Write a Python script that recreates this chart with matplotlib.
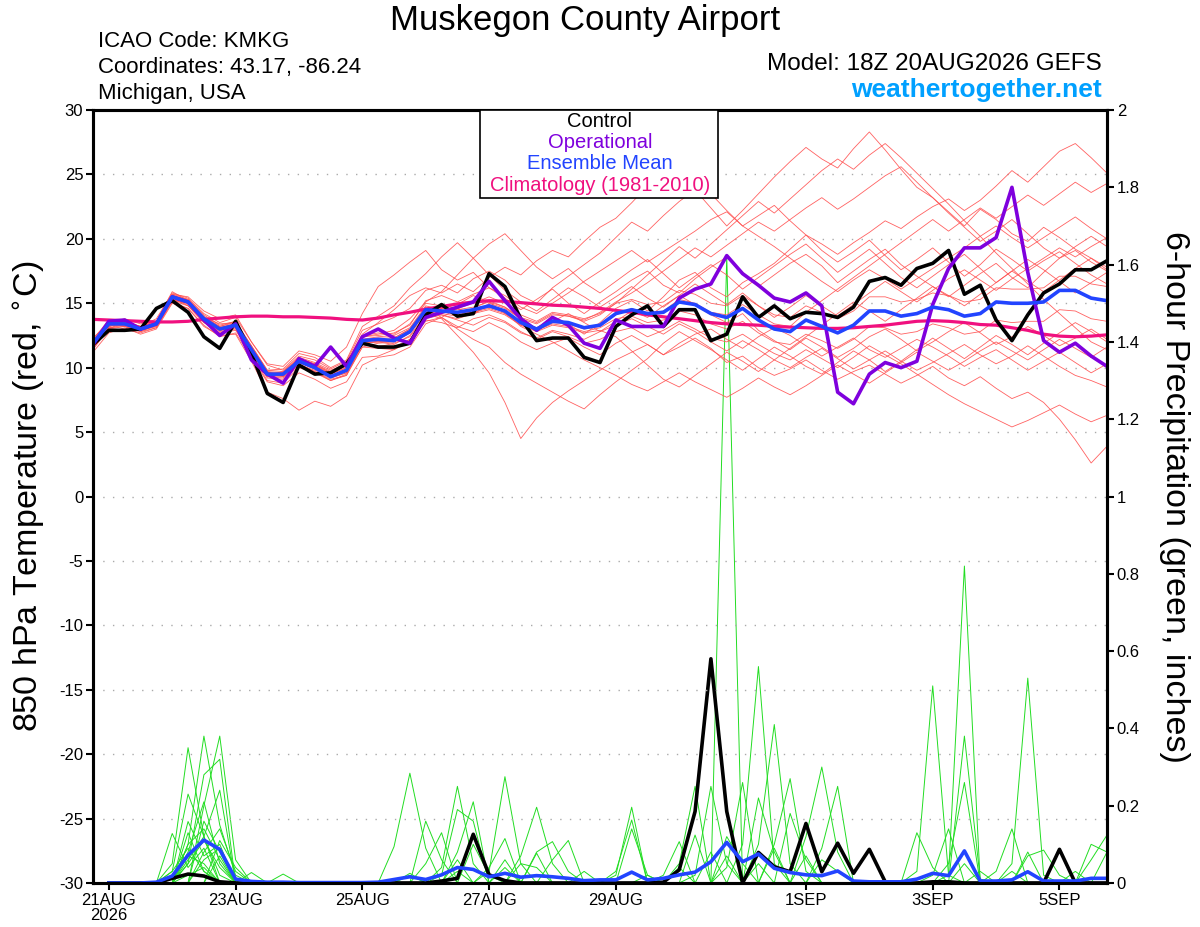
import numpy as np
import pandas as pd
import matplotlib
matplotlib.use('Agg')
import matplotlib.pyplot as plt
from matplotlib.patches import Rectangle

plt.rcParams['font.family'] = ['Liberation Sans', 'DejaVu Sans']

# Data
#################
times = pd.date_range('2026-08-20 18:00', periods=65, freq='6h')
tick_dates = pd.to_datetime(['2026-08-21', '2026-08-23', '2026-08-25', '2026-08-27',
                             '2026-08-29', '2026-09-01', '2026-09-03', '2026-09-05'])
tick_labels = ['21AUG\n2026', '23AUG', '25AUG', '27AUG', '29AUG', '1SEP', '3SEP', '5SEP']

# 850 hPa temperature (C)
control_t = [11.8, 12.9, 12.9, 13.0, 14.6, 15.2, 14.3, 12.4, 11.5, 13.6,
             11.1, 8.0, 7.3, 10.2, 9.5, 9.6, 10.3, 11.9, 11.6, 11.6, 11.9,
             14.1, 14.9, 14.0, 14.2, 17.3, 16.3, 13.8, 12.1, 12.3, 12.3, 10.8, 10.4,
             13.2, 14.1, 14.8, 13.2, 14.5, 14.5, 12.1, 12.6, 15.5, 13.9, 14.8, 13.8,
             14.3, 14.2, 13.9, 14.7, 16.7, 17.0, 16.4, 17.7, 18.1, 19.1,
             15.7, 16.4, 13.7, 12.1, 14.1, 15.8, 16.5, 17.6, 17.6, 18.3]
oper_t = [11.8, 13.6, 13.7, 13.0, 13.4, 15.5, 15.1, 13.7, 12.5, 13.4,
          10.6, 9.5, 8.8, 10.7, 10.1, 11.6, 10.1, 12.4, 13.0, 12.3, 11.9,
          13.9, 14.3, 14.7, 15.1, 16.7, 15.2, 13.8, 12.9, 13.9, 13.3, 11.9, 11.5,
          13.7, 13.2, 13.2, 13.2, 15.4, 16.1, 16.5, 18.7, 17.3, 16.4, 15.4, 15.1,
          15.8, 14.8, 8.1, 7.2, 9.5, 10.4, 10.0, 10.5, 14.9, 17.7,
          19.3, 19.3, 20.1, 24.0, 17.4, 12.1, 11.2, 11.9, 10.9, 10.1]
mean_t = [11.9, 13.4, 13.4, 13.0, 13.4, 15.5, 15.1, 13.8, 13.0, 13.3,
          11.4, 9.5, 9.5, 10.5, 10.0, 9.3, 9.8, 12.1, 12.2, 12.1, 12.8,
          14.5, 14.4, 14.3, 14.5, 14.8, 14.4, 13.5, 13.0, 13.6, 13.5, 13.1, 13.3,
          14.2, 14.5, 14.2, 14.3, 15.1, 14.9, 14.2, 13.9, 14.6, 13.7, 13.0, 12.8,
          13.7, 13.2, 12.7, 13.3, 14.4, 14.4, 14.0, 14.2, 14.7, 14.5,
          14.0, 14.2, 15.1, 15.0, 15.0, 15.1, 16.0, 16.0, 15.4, 15.2]
clim_t = [13.75, 13.7, 13.65, 13.6, 13.55, 13.55, 13.6, 13.75, 13.85, 13.95,
          14.0, 14.0, 13.95, 13.95, 13.9, 13.85, 13.75, 13.7, 13.85, 14.1, 14.3,
          14.55, 14.75, 14.95, 15.1, 15.2, 15.15, 15.05, 14.95, 14.85, 14.8, 14.7, 14.6,
          14.45, 14.3, 14.1, 13.95, 13.8, 13.65, 13.5, 13.4, 13.35, 13.3, 13.2, 13.15,
          13.1, 13.05, 13.05, 13.1, 13.2, 13.3, 13.45, 13.6, 13.65, 13.6,
          13.5, 13.35, 13.3, 13.1, 12.9, 12.6, 12.45, 12.4, 12.45, 12.55]

ens_t = [
    [11.5, 13.0, 13.6, 13.2, 13.8, 15.8, 15.4, 14.2, 13.5, 13.9,
     12.0, 10.2, 9.8, 10.9, 10.6, 9.9, 10.5, 12.9, 13.4, 13.9, 14.6,
     16.0, 16.4, 15.8, 16.9, 17.5, 16.8, 15.6, 15.0, 16.2, 17.1, 18.0, 18.9,
     20.1, 21.3, 20.6, 21.8, 22.9, 23.8, 22.4, 21.0, 22.2, 23.5, 24.8, 26.0,
     27.1, 26.2, 25.5, 27.0, 28.3, 26.9, 25.4, 24.0, 23.2, 22.1,
     21.0, 22.3, 21.5, 20.4, 19.8, 20.9, 20.1, 19.2, 18.5, 17.6],
    [11.2, 12.7, 13.1, 12.6, 13.0, 15.0, 14.6, 13.3, 12.4, 12.7,
     10.8, 8.9, 8.6, 9.6, 9.1, 8.4, 8.9, 10.8, 10.9, 11.4, 12.2,
     13.6, 13.9, 13.2, 12.8, 13.5, 12.9, 12.0, 11.4, 11.9, 12.3, 11.6, 11.0,
     11.9, 12.5, 11.8, 11.0, 11.6, 12.3, 11.5, 10.4, 10.9, 10.0, 9.4, 9.9,
     10.6, 9.8, 9.1, 9.7, 10.2, 9.5, 8.8, 9.4, 10.1, 9.2,
     8.6, 9.3, 8.4, 7.6, 8.1, 7.3, 6.0, 4.4, 2.6, 3.9],
    [12.1, 13.6, 13.3, 12.9, 13.2, 15.3, 15.0, 13.6, 12.8, 13.0,
     11.0, 9.0, 8.8, 10.0, 9.6, 9.0, 9.5, 11.6, 11.9, 12.0, 12.7,
     14.2, 13.8, 12.5, 11.2, 9.6, 7.3, 4.5, 6.1, 7.3, 8.2, 9.0, 9.8,
     10.6, 11.2, 11.8, 11.0, 11.9, 12.6, 13.0, 12.2, 11.5, 12.4, 13.1, 12.5,
     11.7, 10.9, 11.6, 12.3, 11.4, 10.8, 11.5, 12.2, 11.6, 10.9,
     10.1, 10.8, 11.4, 10.6, 9.8, 10.5, 11.2, 10.4, 9.6, 10.3],
    [12.3, 13.5, 13.8, 13.4, 13.6, 15.7, 15.5, 14.4, 13.8, 14.1,
     12.0, 10.3, 10.1, 11.3, 11.0, 10.5, 11.6, 14.2, 16.3, 17.2, 18.2,
     19.1, 17.6, 16.8, 17.4, 16.2, 15.4, 14.5, 15.3, 16.1, 15.0, 14.2, 15.1,
     15.9, 16.8, 17.5, 16.4, 15.8, 16.9, 17.8, 18.6, 17.4, 16.3, 17.2, 18.1,
     18.8, 17.9, 16.6, 17.5, 18.4, 19.2, 18.0, 17.1, 16.3, 15.5,
     16.4, 17.3, 18.1, 17.0, 16.2, 17.4, 18.5, 19.1, 18.2, 17.5],
    [11.6, 12.9, 13.0, 12.7, 13.1, 15.1, 14.6, 13.2, 12.5, 12.6,
     10.5, 8.1, 7.6, 6.7, 7.4, 7.0, 7.8, 10.2, 10.8, 11.0, 11.6,
     13.4, 13.9, 14.6, 14.1, 15.0, 14.6, 13.8, 12.9, 13.6, 14.2, 13.5, 12.8,
     13.6, 14.4, 13.9, 14.8, 15.6, 14.9, 14.1, 13.5, 14.2, 12.9, 12.1, 11.4,
     12.3, 11.6, 10.8, 11.5, 12.4, 13.0, 12.2, 11.3, 12.0, 12.8,
     13.5, 12.7, 11.8, 12.4, 13.2, 12.5, 11.7, 12.3, 13.0, 12.2],
    [11.9, 13.2, 13.6, 13.1, 13.5, 15.6, 15.3, 14.0, 13.2, 13.6,
     11.6, 9.7, 9.3, 10.4, 10.2, 9.6, 10.4, 12.6, 13.5, 14.5, 15.6,
     16.2, 15.8, 16.5, 15.9, 17.0, 17.8, 17.2, 18.3, 19.1, 18.6, 19.8, 20.9,
     21.6, 22.8, 24.1, 25.2, 26.3, 24.9, 23.5, 22.2, 21.0, 21.8, 22.6, 21.4,
     20.3, 19.1, 18.2, 19.0, 19.9, 18.7, 17.6, 18.4, 19.3, 18.2,
     17.1, 18.0, 19.2, 18.4, 17.5, 18.3, 19.0, 18.1, 17.2, 16.5],
    [11.4, 13.1, 13.2, 12.8, 13.3, 15.4, 14.8, 13.5, 12.9, 13.1,
     11.2, 9.3, 9.2, 10.3, 9.7, 9.1, 9.4, 11.8, 11.6, 11.9, 12.4,
     14.0, 14.6, 14.9, 15.6, 15.1, 14.2, 13.6, 13.1, 13.9, 13.4, 12.6, 13.5,
     14.6, 15.2, 14.4, 15.5, 16.8, 17.4, 16.2, 15.5, 16.6, 17.3, 18.1, 19.2,
     20.3, 19.6, 18.8, 19.7, 20.5, 21.4, 20.8, 21.7, 22.5, 23.1,
     22.2, 23.0, 24.1, 25.3, 24.4, 25.6, 26.8, 27.4, 26.3, 25.1],
    [12.0, 13.3, 13.5, 13.0, 13.3, 15.2, 15.0, 13.9, 13.1, 13.4,
     11.3, 9.4, 9.6, 10.6, 10.1, 9.2, 9.6, 11.9, 12.0, 12.3, 13.0,
     14.6, 13.9, 13.0, 12.2, 11.6, 10.4, 9.5, 8.8, 8.1, 7.4, 6.8, 7.9,
     8.9, 9.8, 10.7, 11.9, 12.8, 12.1, 11.4, 10.6, 9.8, 10.7, 11.6, 10.9,
     10.1, 9.5, 10.4, 11.3, 10.6, 9.7, 10.5, 11.4, 12.3, 11.5,
     10.7, 11.6, 12.5, 11.8, 11.0, 11.9, 12.7, 13.5, 12.8, 12.0],
    [12.2, 13.7, 13.4, 13.2, 13.6, 15.9, 15.2, 13.9, 13.4, 13.5,
     11.7, 9.8, 9.9, 11.1, 10.8, 10.0, 10.6, 13.2, 14.0, 14.8, 16.2,
     17.3, 18.6, 19.7, 18.5, 17.2, 16.0, 15.1, 14.4, 15.3, 16.2, 15.5, 14.7,
     15.5, 16.3, 15.4, 14.7, 15.6, 16.5, 15.7, 14.9, 15.8, 14.8, 13.9, 14.7,
     15.6, 14.8, 14.0, 14.9, 15.8, 16.7, 15.9, 15.1, 16.0, 16.9,
     17.6, 16.8, 16.0, 16.9, 17.7, 18.5, 19.3, 18.6, 19.4, 20.1],
    [11.7, 13.4, 13.2, 12.9, 13.2, 15.4, 15.0, 13.7, 12.9, 13.2,
     11.3, 9.4, 9.3, 10.2, 9.8, 9.2, 9.6, 11.8, 11.7, 11.6, 12.2,
     13.8, 14.1, 13.7, 13.3, 13.9, 13.5, 12.7, 12.3, 12.9, 12.6, 12.2, 12.8,
     13.3, 13.8, 13.2, 12.6, 13.4, 12.8, 12.0, 11.3, 12.1, 11.4, 10.6, 10.0,
     10.8, 11.5, 10.7, 9.9, 10.6, 11.3, 10.5, 9.8, 10.4, 11.1,
     11.8, 11.0, 10.3, 10.9, 11.7, 10.9, 10.1, 9.4, 9.0, 8.5],
    [11.8, 13.2, 13.5, 13.1, 13.4, 15.5, 15.2, 13.9, 13.0, 13.3,
     11.5, 9.6, 9.5, 10.5, 10.1, 9.5, 10.0, 12.2, 12.4, 12.5, 13.1,
     14.8, 14.5, 14.0, 14.6, 15.2, 14.7, 13.9, 13.5, 14.2, 14.0, 13.7, 14.3,
     15.1, 15.8, 16.6, 17.5, 18.4, 19.3, 18.6, 19.5, 20.4, 21.3, 20.6, 21.5,
     22.4, 23.2, 22.3, 23.1, 24.0, 24.9, 25.6, 24.4, 23.2, 22.0,
     20.9, 19.8, 20.6, 21.5, 20.4, 19.3, 18.5, 19.4, 20.2, 19.4],
    [12.0, 13.5, 13.4, 13.0, 13.5, 15.6, 15.1, 13.8, 13.1, 13.4,
     11.5, 9.6, 9.6, 10.6, 10.2, 9.5, 10.0, 12.2, 12.0, 11.8, 12.5,
     14.1, 14.3, 14.6, 14.2, 14.9, 14.3, 13.2, 12.6, 12.0, 11.3, 10.6, 10.0,
     9.4, 8.7, 8.2, 8.9, 9.6, 8.9, 8.3, 7.7, 8.4, 9.2, 8.5, 7.9,
     8.6, 9.4, 10.2, 9.5, 8.8, 9.6, 10.4, 11.2, 10.5, 9.8,
     10.5, 11.3, 12.0, 11.3, 10.6, 11.4, 12.2, 11.5, 10.8, 11.6],
    [11.6, 13.1, 13.3, 12.9, 13.3, 15.4, 15.0, 13.7, 12.9, 13.2,
     11.2, 9.4, 9.7, 10.8, 10.4, 9.8, 10.3, 12.4, 12.6, 12.9, 13.8,
     15.1, 15.9, 17.2, 18.5, 19.6, 20.4, 19.1, 17.8, 16.9, 17.7, 16.6, 15.8,
     16.7, 17.6, 18.4, 17.3, 16.2, 17.1, 18.0, 17.2, 16.1, 17.0, 17.9, 18.8,
     19.6, 18.5, 17.4, 18.3, 19.2, 18.1, 17.0, 16.2, 17.1, 18.0,
     18.8, 17.7, 16.6, 17.5, 18.4, 17.6, 16.7, 15.8, 16.6, 17.4],
    [11.9, 13.6, 13.5, 13.2, 13.5, 15.7, 15.3, 14.1, 13.3, 13.6,
     11.7, 9.8, 9.7, 10.7, 10.3, 9.6, 10.1, 12.5, 12.7, 12.6, 13.4,
     15.0, 14.8, 14.6, 15.0, 15.5, 15.0, 14.1, 13.6, 14.3, 14.1, 13.8, 14.2,
     15.0, 15.3, 14.9, 15.1, 16.0, 15.7, 15.0, 14.8, 15.6, 14.8, 14.1, 13.9,
     14.8, 14.3, 13.8, 14.4, 15.5, 15.5, 15.1, 15.3, 15.8, 15.6,
     15.1, 15.3, 16.2, 16.1, 16.1, 16.2, 17.1, 17.1, 16.5, 16.3],
    [11.5, 13.0, 13.2, 12.8, 13.1, 15.2, 14.8, 13.5, 12.7, 12.9,
     11.1, 9.2, 9.1, 10.1, 9.7, 9.0, 9.4, 11.6, 11.5, 11.4, 12.0,
     13.7, 13.5, 13.1, 13.8, 14.1, 13.6, 12.8, 12.2, 12.8, 12.4, 11.9, 12.2,
     12.8, 13.1, 12.4, 12.9, 13.6, 13.0, 12.3, 12.0, 12.6, 11.8, 11.1, 10.6,
     11.4, 10.7, 10.0, 10.8, 11.7, 11.0, 10.3, 9.5, 8.7, 7.9,
     7.2, 6.6, 6.0, 5.4, 5.9, 6.5, 7.1, 6.4, 5.8, 6.3],
    [12.1, 13.4, 13.6, 13.2, 13.6, 15.6, 15.2, 13.9, 13.2, 13.5,
     11.6, 9.7, 9.6, 10.7, 10.3, 9.7, 10.2, 12.4, 12.5, 12.7, 13.3,
     15.2, 15.6, 15.1, 15.7, 16.2, 15.6, 14.7, 14.2, 15.0, 15.8, 16.7, 17.5,
     18.3, 19.1, 18.2, 19.0, 19.8, 20.6, 21.5, 22.1, 21.0, 20.2, 19.4, 18.5,
     17.6, 16.7, 15.9, 16.8, 17.6, 16.9, 16.1, 16.9, 17.7, 18.5,
     19.3, 20.2, 21.0, 20.1, 19.3, 20.1, 20.9, 21.7, 20.8, 20.0],
    [11.8, 13.3, 13.3, 12.9, 13.3, 15.3, 14.9, 13.6, 12.9, 13.1,
     11.2, 9.3, 9.4, 10.4, 9.9, 9.3, 9.8, 11.9, 12.0, 12.1, 12.7,
     14.3, 14.1, 13.8, 14.2, 14.5, 14.1, 13.3, 12.9, 13.4, 13.2, 12.8, 13.1,
     13.8, 14.0, 13.5, 13.7, 14.4, 14.1, 13.4, 13.0, 13.6, 12.7, 12.0, 11.8,
     12.6, 12.1, 11.5, 12.2, 13.2, 13.1, 12.6, 12.8, 13.4, 13.1,
     12.6, 12.8, 13.7, 13.5, 13.6, 13.6, 14.5, 14.4, 13.8, 13.6],
    [11.7, 13.2, 13.4, 13.0, 13.4, 15.5, 15.0, 13.8, 13.0, 13.3,
     11.4, 9.5, 9.4, 10.4, 10.0, 9.4, 9.8, 12.0, 12.2, 12.1, 12.8,
     14.4, 14.3, 14.2, 14.4, 14.7, 14.3, 13.4, 12.9, 13.5, 13.4, 13.0, 13.2,
     14.1, 14.6, 14.2, 14.4, 15.3, 15.0, 14.3, 14.1, 14.9, 14.1, 13.4, 13.2,
     14.3, 15.2, 16.1, 17.0, 17.9, 18.8, 19.7, 20.6, 21.5, 20.6,
     21.5, 22.4, 21.6, 22.5, 23.4, 22.6, 23.5, 24.4, 23.6, 24.3],
    [12.0, 13.4, 13.3, 13.0, 13.4, 15.4, 15.0, 13.7, 13.0, 13.2,
     11.3, 9.4, 9.4, 10.4, 9.9, 9.3, 9.7, 12.0, 12.1, 12.0, 12.7,
     14.5, 14.2, 14.0, 14.3, 14.6, 14.2, 13.3, 12.8, 13.3, 13.1, 12.7, 12.9,
     12.4, 11.3, 10.2, 9.1, 8.5, 9.4, 10.3, 11.2, 10.5, 9.7, 10.6, 11.5,
     12.4, 13.3, 14.2, 15.1, 14.4, 13.6, 14.5, 15.4, 16.3, 15.6,
     14.8, 15.7, 16.6, 17.5, 16.7, 15.9, 16.8, 17.7, 18.5, 17.8],
    [11.9, 13.3, 13.5, 13.1, 13.5, 15.6, 15.2, 13.9, 13.1, 13.4,
     11.5, 9.6, 9.5, 10.5, 10.1, 9.4, 9.9, 12.2, 12.3, 12.3, 13.0,
     14.7, 14.6, 14.5, 14.7, 15.1, 14.7, 13.8, 13.4, 14.1, 14.0, 13.6, 14.1,
     15.0, 16.1, 17.2, 18.3, 19.4, 18.5, 19.6, 20.7, 21.8, 22.9, 22.0, 23.1,
     24.2, 25.3, 26.2, 25.4, 26.5, 27.4, 26.3, 25.1, 23.9, 22.7,
     21.4, 20.2, 18.9, 17.7, 16.5, 15.3, 14.2, 13.1, 12.0, 11.4],
]

# 6-hour precipitation (inches), from 21AUG 00Z on
control_p = [0, 0, 0, 0, .012, .023, .018, .003,
             0, 0, 0, 0, 0, 0, 0, 0,
             0, 0, 0, 0, 0, .005, .012, .126,
             .021, .006, 0, 0, 0, 0, 0, 0,
             0, 0, 0, .002, .034, .185, .58, .185,
             0, .079, .042, .029, .154, .029, .103, .025,
             .087, .003, 0, 0, .003, .003, 0, 0,
             0, 0, 0, 0, .087, 0, 0, 0]
mean_p = [0, 0, 0, .002, .018, .072, .111, .087,
          .010, .004, .002, .002, .001, .001, .001, .001,
          .001, .002, .009, .016, .009, .021, .040, .035,
          .016, .025, .015, .019, .016, .012, .006, .008,
          .008, .028, .008, .012, .021, .028, .055, .105,
          .055, .075, .038, .027, .021, .019, .031, .005,
          .003, .003, .003, .010, .025, .019, .083, .005,
          .005, .008, .029, .005, .005, .005, .012, .012]

ens_p = [
    [0, 0, 0, 0, .05, .35, .12, .02, 0, 0, 0, 0, 0, 0, 0, 0,
     0, 0, 0, 0, 0, .04, .25, .05, 0, 0, 0, 0, 0, 0, 0, 0,
     0, 0, 0, 0, 0, 0, 0, 1.62, 0, 0, 0, 0, 0, 0, 0, 0,
     0, 0, 0, 0, 0, 0, .05, 0, 0, 0, 0, 0, 0, 0, 0, 0],
    [0, 0, 0, 0, 0, .10, .38, .15, .02, 0, 0, 0, 0, 0, 0, 0,
     0, 0, 0, 0, 0, 0, 0, 0, .03, .275, .05, 0, 0, 0, 0, 0,
     0, 0, 0, 0, 0, 0, 0, 0, .10, .56, .05, 0, 0, 0, 0, 0,
     0, 0, 0, 0, 0, 0, 0, 0, 0, .05, .53, .02, 0, 0, 0, 0],
    [0, 0, 0, 0, 0, 0, .20, .38, .06, 0, 0, 0, 0, 0, 0, 0,
     0, 0, .094, .284, .09, 0, 0, 0, 0, 0, 0, 0, 0, 0, 0, 0,
     0, 0, 0, 0, 0, 0, 0, 0, 0, .10, .41, .05, 0, 0, 0, 0,
     0, 0, 0, 0, 0, .02, .82, 0, 0, 0, 0, 0, 0, 0, 0, 0],
    [0, 0, 0, 0, .03, .23, .12, 0, 0, 0, 0, 0, 0, 0, 0, 0,
     0, 0, 0, 0, 0, 0, .08, .21, 0, 0, 0, 0, 0, 0, 0, 0,
     .02, .196, 0, 0, 0, 0, 0, 0, 0, 0, 0, 0, 0, 0, 0, 0,
     0, 0, 0, .03, .51, .02, 0, 0, 0, 0, 0, 0, 0, 0, 0, 0],
    [0, 0, 0, 0, 0, .05, .28, .32, 0, 0, 0, 0, 0, 0, 0, 0,
     0, 0, 0, 0, 0, 0, 0, 0, 0, 0, .07, .196, .05, 0, 0, 0,
     0, 0, 0, 0, 0, 0, 0, 0, 0, 0, 0, 0, .12, .30, .08, 0,
     0, 0, 0, 0, 0, 0, .38, .01, 0, 0, 0, 0, 0, 0, 0, 0],
    [0, 0, 0, 0, 0, .08, .21, .05, 0, 0, 0, 0, 0, 0, 0, 0,
     0, 0, 0, 0, .16, .06, 0, 0, 0, 0, 0, 0, 0, 0, 0, 0,
     0, 0, 0, 0, .05, .25, 0, 0, 0, 0, 0, 0, 0, 0, 0, 0,
     0, 0, 0, 0, 0, 0, 0, 0, 0, 0, 0, 0, 0, 0, .06, .124],
    [0, 0, 0, 0, .128, .04, .09, 0, 0, 0, 0, 0, 0, 0, 0, 0,
     0, 0, 0, 0, 0, .02, .19, .16, 0, 0, 0, 0, 0, 0, 0, 0,
     0, 0, 0, 0, 0, 0, 0, 0, 0, 0, .10, .27, .03, 0, 0, 0,
     0, 0, 0, 0, 0, 0, 0, 0, .03, .14, 0, 0, 0, 0, 0, 0],
    [0, 0, 0, 0, 0, .159, .07, .10, 0, 0, 0, 0, 0, 0, 0, 0,
     0, 0, 0, 0, 0, 0, 0, 0, .04, .115, 0, 0, 0, 0, 0, 0,
     0, 0, 0, 0, 0, .02, .25, .05, 0, 0, 0, 0, 0, 0, 0, 0,
     0, 0, 0, 0, 0, .05, .26, 0, 0, 0, 0, 0, 0, 0, 0, 0],
    [0, 0, 0, 0, 0, .06, .12, .24, 0, 0, 0, 0, 0, 0, 0, 0,
     0, 0, 0, 0, 0, 0, 0, 0, 0, 0, 0, 0, .06, .11, 0, 0,
     0, 0, 0, 0, 0, 0, 0, .04, .26, 0, 0, 0, 0, 0, 0, 0,
     0, 0, 0, 0, 0, 0, 0, 0, 0, 0, .07, .085, .02, 0, 0, 0],
    [0, 0, 0, 0, 0, .10, .14, .06, 0, 0, 0, 0, 0, 0, 0, 0,
     0, 0, 0, 0, .05, .13, 0, 0, 0, 0, 0, 0, 0, 0, 0, 0,
     0, 0, 0, 0, 0, 0, 0, 0, 0, 0, 0, 0, 0, .09, .25, 0,
     0, 0, 0, 0, 0, 0, 0, 0, 0, 0, 0, 0, 0, 0, .10, .08],
    [0, 0, 0, 0, 0, 0, .16, .08, 0, 0, 0, 0, 0, 0, 0, 0,
     0, 0, 0, 0, 0, 0, 0, 0, 0, 0, 0, .08, .107, .03, 0, 0,
     0, 0, 0, .02, .107, 0, 0, 0, 0, .22, .08, 0, 0, 0, 0, 0,
     0, 0, 0, .13, .04, 0, 0, 0, 0, 0, 0, 0, 0, 0, 0, 0],
    [0, 0, 0, 0, 0, .07, .05, 0, 0, 0, 0, 0, 0, 0, 0, 0,
     0, 0, 0, 0, 0, 0, 0, 0, 0, 0, 0, 0, 0, 0, 0, 0,
     .03, .163, 0, 0, 0, .124, 0, 0, 0, 0, 0, .18, .06, 0, 0, 0,
     0, 0, 0, 0, .02, .14, 0, 0, 0, 0, 0, 0, 0, 0, 0, 0],
    [0, 0, 0, 0, 0, 0, 0, .11, .04, 0, 0, 0, 0, 0, 0, 0,
     0, 0, 0, 0, 0, 0, 0, 0, 0, 0, 0, .077, 0, 0, 0, 0,
     0, .14, .02, 0, 0, 0, 0, 0, 0, 0, 0, 0, 0, .06, .03, 0,
     0, 0, 0, 0, 0, 0, 0, 0, 0, 0, 0, 0, 0, 0, 0, 0],
    [0, 0, 0, 0, .03, .09, .03, 0, 0, 0, 0, 0, 0, 0, 0, 0,
     0, 0, 0, 0, 0, 0, 0, .10, .02, 0, 0, 0, 0, 0, 0, 0,
     0, 0, 0, 0, 0, 0, 0, .12, .05, 0, 0, 0, 0, 0, 0, 0,
     0, 0, 0, 0, 0, 0, 0, 0, 0, 0, 0, 0, 0, 0, 0, 0],
    [0, 0, 0, 0, 0, 0, .06, .09, 0, .027, 0, 0, 0, 0, 0, 0,
     0, 0, 0, 0, 0, 0, .06, 0, 0, 0, 0, 0, 0, 0, 0, 0,
     0, 0, 0, 0, 0, 0, 0, 0, 0, 0, .09, 0, 0, 0, 0, 0,
     0, 0, 0, 0, 0, 0, 0, .03, 0, 0, 0, 0, 0, 0, 0, 0],
    [0, 0, 0, 0, 0, .05, .11, .04, 0, 0, 0, .023, 0, 0, 0, 0,
     0, 0, 0, 0, 0, 0, 0, 0, 0, .06, 0, 0, 0, 0, 0, 0,
     0, 0, 0, 0, 0, 0, .08, 0, 0, 0, 0, 0, 0, 0, 0, 0,
     0, 0, 0, 0, 0, 0, 0, 0, 0, 0, .08, 0, 0, 0, 0, 0],
    [0, 0, 0, 0, 0, 0, .08, .14, .03, 0, 0, 0, 0, 0, 0, 0,
     0, 0, 0, .02, 0, 0, 0, 0, 0, 0, .05, .04, 0, 0, 0, 0,
     0, 0, 0, 0, 0, 0, 0, 0, 0, 0, 0, 0, .07, 0, 0, 0,
     0, 0, 0, 0, 0, 0, 0, 0, 0, 0, 0, 0, 0, 0, 0, 0],
    [0, 0, 0, 0, 0, .13, .03, 0, 0, 0, 0, 0, 0, 0, 0, 0,
     0, 0, 0, 0, 0, 0, 0, 0, 0, 0, 0, 0, 0, 0, .03, 0,
     0, 0, 0, 0, 0, 0, 0, .07, 0, 0, 0, 0, 0, 0, 0, 0,
     0, 0, 0, 0, 0, 0, 0, 0, 0, 0, 0, 0, 0, 0, 0, .08],
    [0, 0, 0, 0, 0, 0, 0, .07, 0, 0, 0, 0, 0, 0, 0, 0,
     0, 0, 0, 0, 0, 0, 0, 0, 0, .04, 0, 0, 0, 0, 0, 0,
     0, 0, .02, 0, .04, 0, 0, 0, 0, 0, 0, 0, 0, 0, 0, 0,
     0, 0, 0, 0, 0, 0, 0, 0, 0, 0, 0, 0, 0, .03, 0, 0],
    [0, 0, 0, 0, 0, .02, .04, 0, 0, 0, 0, 0, 0, 0, 0, 0,
     0, 0, 0, .025, 0, 0, .03, 0, 0, 0, 0, 0, 0, 0, 0, 0,
     0, 0, 0, 0, 0, 0, 0, 0, 0, .05, 0, 0, 0, 0, 0, 0,
     0, 0, 0, 0, 0, 0, 0, 0, 0, .03, 0, 0, 0, 0, 0, 0],
]
#################

# Plot
#################
fig = plt.figure(figsize=(12, 9.27), dpi=100)
ax = fig.add_axes([0.0775, 0.0475, 0.845, 0.8338])
ax2 = ax.twinx()
ax.set_zorder(ax2.get_zorder() + 1)
ax.patch.set_visible(False)

ptimes = times[1:]
for mem in ens_p:
    ax2.plot(ptimes, mem, color='#22dd22', lw=0.7)
ax2.plot(ptimes, control_p, color='black', lw=2.6)
ax2.plot(ptimes, mean_p, color='#2244ff', lw=2.6)

for mem in ens_t:
    ax.plot(times, mem, color='#ff5050', lw=0.6, alpha=0.9)
ax.plot(times, clim_t, color='#f0107f', lw=2.3)
ax.plot(times, control_t, color='black', lw=2.6)
ax.plot(times, oper_t, color='#7f00dd', lw=2.6)
ax.plot(times, mean_t, color='#2244ff', lw=2.6)

ax.set_xlim(times[0], times[-1])
ax.set_ylim(-30, 30)
ax2.set_ylim(0, 2)
ax.set_yticks(np.arange(-30, 31, 5))
ax.set_yticklabels([str(v) for v in range(-30, 31, 5)], fontsize=12)
ax2.set_yticks(np.arange(0, 2.01, 0.2))
ax2.set_yticklabels(['0', '0.2', '0.4', '0.6', '0.8', '1', '1.2', '1.4', '1.6', '1.8', '2'],
                    fontsize=12)
ax.set_xticks(tick_dates)
ax.set_xticklabels(tick_labels, fontsize=12, linespacing=1.0)

for v in range(-25, 30, 5):
    ax.axhline(v, color='#aaaaaa', lw=1.0, ls=(0, (1, 6)), zorder=0)

for a in (ax, ax2):
    for s in a.spines.values():
        s.set_linewidth(2.2)
    a.tick_params(direction='out', length=5, width=1.5, pad=2)

# legend box
ax.add_patch(Rectangle((0.3817, 0.886), 0.2347, 0.114, transform=ax.transAxes,
                       facecolor='white', edgecolor='black', lw=1.2, zorder=10))
leg_txt = ['Control', 'Operational', 'Ensemble Mean', 'Climatology (1981-2010)']
leg_col = ['black', '#7f00dd', '#2244ff', '#f0107f']
leg_y = [0.9858, 0.9586, 0.9314, 0.9029]
for t, c, yy in zip(leg_txt, leg_col, leg_y):
    ax.text(0.5, yy, t, color=c, fontsize=14.5, ha='center', va='center',
            transform=ax.transAxes, zorder=11)

# header
fig.text(0.4875, 0.978, 'Muskegon County Airport', fontsize=25, ha='center', va='center')
fig.text(0.0817, 0.955, 'ICAO Code: KMKG', fontsize=16, ha='left', va='center')
fig.text(0.0817, 0.927, 'Coordinates: 43.17, -86.24', fontsize=16, ha='left', va='center')
fig.text(0.0817, 0.899, 'Michigan, USA', fontsize=16, ha='left', va='center')
fig.text(0.918, 0.931, 'Model: 18Z 20AUG2026 GEFS', fontsize=17.5, ha='right', va='center')
fig.text(0.918, 0.903, 'weathertogether.net', fontsize=19, fontweight='bold',
         color='#00a0ff', ha='right', va='center')

fig.text(0.025, 0.4644, r'850 hPa Temperature (red, $^{\circ}$C)', fontsize=24.5,
         rotation=90, ha='center', va='center')
fig.text(0.979, 0.4644, '6-hour Precipitation (green, inches)', fontsize=24.5,
         rotation=270, ha='center', va='center')

plt.savefig('out.png', dpi=100)
plt.close()
#################
